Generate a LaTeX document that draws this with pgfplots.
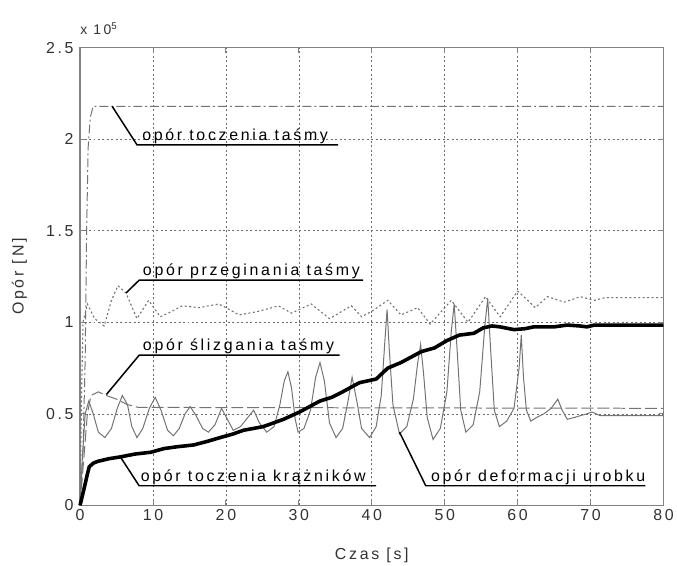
\documentclass[border=0pt]{standalone}
\usepackage{pgfplots}
\pgfplotsset{compat=1.18}
\usepackage{fontspec}
\setmainfont{Liberation Sans}[LetterSpace=17]
\definecolor{axgray}{RGB}{130,130,130}
\definecolor{linegray}{RGB}{115,115,115}
\definecolor{gridgray}{RGB}{110,110,110}
\definecolor{txtgray}{RGB}{50,50,50}
\begin{document}
\begin{tikzpicture}
\begin{axis}[
  scale only axis, width=586.5bp, height=460bp,
  xmin=0, xmax=80, ymin=0, ymax=2.5,
  xtick={0,10,20,30,40,50,60,70,80},
  ytick={0,0.5,1,1.5,2,2.5},
  /pgf/number format/assume math mode=true,
  tick label style={font=\fontsize{16bp}{19bp}\selectfont, text=txtgray},
  axis line style={axgray, line width=1.2bp},
  tick style={axgray, line width=1bp},
  tick align=inside, major tick length=5bp,
  grid=major,
  major grid style={gridgray, line width=0.6bp, dash pattern=on 2bp off 2.5bp},
  xlabel={Czas [s]}, ylabel={Opór [N]},
  every axis x label/.style={at={(rel axis cs:0.5,0)}, anchor=center, yshift=-50bp, font=\fontsize{16bp}{19bp}\selectfont, text=txtgray},
  every axis y label/.style={at={(rel axis cs:0,0.5)}, anchor=center, xshift=-61bp, rotate=90, font=\fontsize{16bp}{19bp}\selectfont, text=txtgray},
  yticklabel style={xshift=-3bp},
  xticklabel style={yshift=-1bp},
  clip=false,
]
% opór toczenia taśmy (dash-dot)
\addplot[linegray, line width=1bp, dash pattern=on 9bp off 3bp on 2bp off 3bp] coordinates {
(0,0) (0.4,0.3) (0.7,0.8) (0.9,1.5) (1.1,1.95) (1.4,2.12) (1.8,2.18) (80,2.18)};
% opór przeginania taśmy (dotted)
\addplot[linegray, line width=1.1bp, dash pattern=on 2bp off 2.5bp] coordinates {
(0,0) (0.2,0.6) (0.4,1.0) (1.0,1.10) (2.0,1.02) (3.3,0.98) (4.3,1.12) (5.2,1.20) (6.3,1.16) (7.8,1.02) (9.4,1.12) (11,1.03) (12.6,1.06) (14,1.09) (16.3,1.08) (19,1.10) (20,1.08) (21.8,1.04) (24.5,1.06) (27.2,1.09) (29,1.05) (31.7,1.10) (34.2,1.02) (37.2,1.09) (38.6,1.03) (40,1.06) (42.2,1.12) (44,1.04) (46.3,1.08) (48,0.99) (50.9,1.12) (53.2,1.00) (55.6,1.14) (57.6,1.03) (60,1.17) (61.4,1.12) (62.4,1.08) (64.1,1.14) (66.4,1.11) (68.6,1.14) (70.5,1.12) (72,1.135) (80,1.135)};
% opór ślizgania taśmy (long dash)
\addplot[linegray, line width=1bp, dash pattern=on 12bp off 4bp] coordinates {
(0,0) (0.5,0.25) (1.0,0.5) (1.5,0.6) (2.5,0.62) (3.6,0.60) (5,0.58) (6.5,0.55) (8,0.535) (80,0.53)};
% opór deformacji urobku (thin solid)
\addplot[linegray, line width=1bp] coordinates {
(0,0) (0.3,0.25) (0.7,0.5) (1.2,0.57) (1.8,0.50) (2.5,0.40) (3.4,0.37) (4.3,0.42) (5.1,0.53) (5.8,0.60) (6.5,0.55) (7.1,0.43) (7.8,0.37) (8.6,0.42) (9.5,0.53) (10.3,0.59) (11.1,0.52) (12.0,0.41) (12.8,0.38) (13.6,0.42) (14.4,0.50) (15.1,0.54) (15.9,0.49) (16.8,0.42) (17.6,0.40) (18.5,0.44) (19.4,0.53) (20.2,0.47) (21,0.41) (22,0.43) (23,0.48) (23.8,0.52) (24.6,0.45) (25.6,0.40) (26.6,0.43) (27.4,0.55) (28,0.68) (28.5,0.73) (29,0.64) (29.5,0.47) (29.9,0.40) (30.7,0.42) (31.6,0.52) (32.3,0.70) (32.9,0.78) (33.5,0.68) (34.2,0.45) (35.1,0.37) (36,0.42) (36.7,0.56) (37.3,0.70) (37.9,0.58) (38.6,0.42) (39.7,0.37) (40.6,0.43) (41.3,0.60) (41.8,0.90) (42.1,1.07) (42.4,0.85) (42.9,0.55) (43.8,0.39) (44.8,0.43) (45.7,0.58) (46.3,0.78) (46.7,0.88) (47.1,0.72) (47.6,0.48) (48.4,0.36) (49.4,0.42) (50.3,0.62) (50.9,0.95) (51.3,1.10) (51.7,0.85) (52.2,0.52) (52.9,0.40) (53.9,0.44) (54.8,0.62) (55.5,0.98) (55.9,1.13) (56.3,0.85) (56.8,0.52) (57.5,0.43) (58.5,0.46) (59.5,0.53) (60.2,0.75) (60.5,0.93) (60.8,0.70) (61.2,0.52) (61.8,0.46) (62.6,0.48) (63.6,0.50) (64.6,0.53) (65.5,0.58) (66.1,0.52) (66.8,0.47) (67.8,0.48) (68.6,0.49) (69.5,0.50) (70.2,0.51) (71.3,0.49) (80,0.49)};
% opór toczenia krążników (thick black)
\addplot[black, line width=3.6bp, line join=round] coordinates {
(0,0) (0.3,0.05) (0.6,0.10) (1.0,0.17) (1.25,0.21) (1.8,0.23) (2.4,0.24) (4,0.255) (5.6,0.265) (7.5,0.28) (9.7,0.29) (11.5,0.31) (13.3,0.32) (15.6,0.33) (17.5,0.35) (19.2,0.37) (21,0.39) (22.4,0.41) (25.1,0.43) (27.9,0.47) (30.1,0.51) (31.5,0.54) (32.9,0.57) (34.5,0.59) (36,0.62) (38.3,0.67) (40.6,0.69) (42.2,0.75) (44,0.78) (46.8,0.84) (48.6,0.86) (50.3,0.90) (52,0.93) (54,0.94) (55.3,0.97) (56.5,0.98) (57.6,0.975) (59.5,0.96) (61,0.965) (62.2,0.975) (65,0.975) (66.8,0.985) (68.5,0.98) (69.5,0.975) (70.5,0.985) (80,0.985)};
% annotations
\tikzset{annot/.style={black, line width=1.5bp}, anntext/.style={anchor=base west, inner sep=0pt, text=black, font=\fontsize{16bp}{19bp}\selectfont}}
\draw[annot] (axis cs:4.4,2.18) -- (axis cs:7.8,1.97) -- (axis cs:35.4,1.97);
\node[anntext] at ([yshift=4.5bp]axis cs:8.5,1.97) {opór toczenia taśmy};
\draw[annot] (axis cs:6.3,1.16) -- (axis cs:8.1,1.23) -- (axis cs:38.8,1.23);
\node[anntext] at ([yshift=4.5bp]axis cs:8.6,1.23) {opór przeginania taśmy};
\draw[annot] (axis cs:3.6,0.605) -- (axis cs:8.1,0.82) -- (axis cs:35.6,0.82);
\node[anntext] at ([yshift=4.5bp]axis cs:8.6,0.82) {opór ślizgania taśmy};
\draw[annot] (axis cs:5.6,0.26) -- (axis cs:8.1,0.107) -- (axis cs:40.6,0.107);
\node[anntext] at ([yshift=4.5bp]axis cs:8.3,0.107) {opór toczenia krążników};
\draw[annot] (axis cs:43.8,0.40) -- (axis cs:47.4,0.107) -- (axis cs:77.5,0.107);
\node[anntext] at ([yshift=4.5bp]axis cs:48.1,0.107) {opór deformacji urobku};
\node[anchor=base west, inner sep=0pt, text=txtgray, font=\fontsize{14bp}{17bp}\selectfont] at ([yshift=13bp]rel axis cs:0,1) {x 10\textsuperscript{5}};
\end{axis}
\path ([shift={(-80.5bp,-54bp)}]current axis.south west) rectangle ([shift={(10bp,48bp)}]current axis.north east);
\end{tikzpicture}
\end{document}
